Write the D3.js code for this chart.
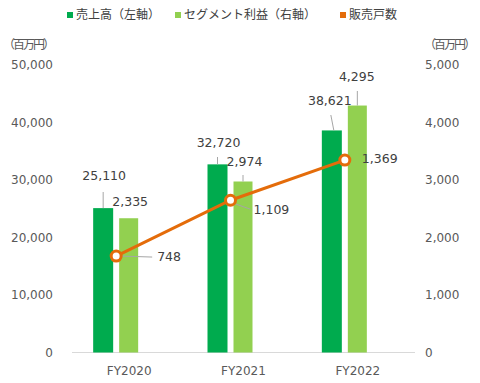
<!DOCTYPE html>
<html>
<head>
<meta charset="utf-8">
<script src="https://cdn.jsdelivr.net/npm/d3@7"></script>
<style>
  body { margin: 0; background: #fff; }
  text { font-family: "DejaVu Sans", "Noto Sans CJK JP", sans-serif; }
  .jp { font-family: "Noto Sans CJK JP", sans-serif; }
</style>
</head>
<body>
<script>
// data
var years = ["FY2020", "FY2021", "FY2022"];
var sales = [25110, 32720, 38621];      // 売上高 (left axis)
var segProfit = [2335, 2974, 4295];     // セグメント利益 (right axis)
var units = [748, 1109, 1369];          // 販売戸数 (hidden axis)
var leftTicks = [0, 10000, 20000, 30000, 40000, 50000];
var rightTicks = [0, 1000, 2000, 3000, 4000, 5000];

var W = 480, H = 383;
var colDark = "#00ab4e", colLight = "#92d050", colOrange = "#e46c0a";
var txt = "#404040", axTxt = "#595959", lead = "#a6a6a6";

var svg = d3.select("body").append("svg")
  .attr("width", W).attr("height", H);

var x = d3.scaleBand().domain(years).range([72, 415]);
var yL = d3.scaleLinear().domain([0, 50000]).range([352.5, 65]);
var yR = d3.scaleLinear().domain([0, 5000]).range([352.5, 65]);
// hidden third axis for the line
var yU = d3.scaleLinear().domain([124, 1984]).range([352.5, 65]);

function cx(d) { return x(d) + x.bandwidth() / 2; }

// baseline
svg.append("line")
  .attr("x1", 72).attr("x2", 415).attr("y1", 352.5).attr("y2", 352.5)
  .attr("stroke", "#d9d9d9").attr("stroke-width", 1);

// axis ticks
svg.selectAll(".lt").data(leftTicks).enter().append("text")
  .attr("x", 53).attr("y", function(d) { return yL(d); })
  .attr("dy", "0.35em").attr("text-anchor", "end")
  .attr("font-size", 12).attr("fill", axTxt)
  .text(d3.format(","));

svg.selectAll(".rt").data(rightTicks).enter().append("text")
  .attr("x", 425).attr("y", function(d) { return yR(d); })
  .attr("dy", "0.35em").attr("text-anchor", "start")
  .attr("font-size", 12).attr("fill", axTxt)
  .text(d3.format(","));

// unit titles
[3, 424].forEach(function(tx) {
  svg.append("text").attr("class", "jp").attr("x", tx).attr("y", 45)
    .attr("dy", "0.35em").attr("font-size", 12).attr("fill", axTxt)
    .attr("letter-spacing", "-2px").text("（百万円）");
});

// x labels
svg.selectAll(".xl").data(years).enter().append("text")
  .attr("x", cx).attr("y", 371).attr("dy", "0.35em")
  .attr("text-anchor", "middle").attr("font-size", 12).attr("fill", axTxt)
  .text(function(d) { return d; });

// bars
svg.selectAll(".b1").data(years).enter().append("rect")
  .attr("x", function(d) { return cx(d) - 36; })
  .attr("width", 20)
  .attr("y", function(d, i) { return yL(sales[i]); })
  .attr("height", function(d, i) { return yL(0) - yL(sales[i]); })
  .attr("fill", colDark);

svg.selectAll(".b2").data(years).enter().append("rect")
  .attr("x", function(d) { return cx(d) - 10; })
  .attr("width", 19)
  .attr("y", function(d, i) { return yR(segProfit[i]); })
  .attr("height", function(d, i) { return yR(0) - yR(segProfit[i]); })
  .attr("fill", colLight);

// leader lines
var salesLead = [[-26, -26, 192], [-26, -26, 157], [-27, -24, 115]];
svg.selectAll(".sl").data(years).enter().append("line")
  .attr("x1", function(d, i) { return cx(d) + salesLead[i][0]; })
  .attr("x2", function(d, i) { return cx(d) + salesLead[i][1]; })
  .attr("y1", function(d, i) { return salesLead[i][2]; })
  .attr("y2", function(d, i) { return yL(sales[i]); })
  .attr("stroke", lead).attr("stroke-width", 1);

svg.selectAll(".pl").data(years.slice(1)).enter().append("line")
  .attr("x1", function(d) { return cx(d) - 0.5; })
  .attr("x2", function(d) { return cx(d) - 0.5; })
  .attr("y1", function(d, i) { return [175, 91][i]; })
  .attr("y2", function(d, i) { return yR(segProfit[i + 1]); })
  .attr("stroke", lead).attr("stroke-width", 1);

// line series
var lineGen = d3.line()
  .x(function(d, i) { return cx(years[i]) - 13; })
  .y(function(d) { return yU(d); });

// unit leader lines
svg.append("line")
  .attr("x1", cx(years[0]) - 9).attr("x2", cx(years[0]) + 23)
  .attr("y1", yU(units[0])).attr("y2", yU(units[0]) + 1)
  .attr("stroke", lead);
svg.append("line")
  .attr("x1", cx(years[1]) - 10).attr("x2", cx(years[1]) + 7)
  .attr("y1", yU(units[1]) + 3).attr("y2", yU(units[1]) + 9)
  .attr("stroke", lead);

svg.append("path").datum(units)
  .attr("d", lineGen)
  .attr("fill", "none").attr("stroke", colOrange).attr("stroke-width", 3);

svg.selectAll(".mk").data(units).enter().append("circle")
  .attr("cx", function(d, i) { return cx(years[i]) - 13; })
  .attr("cy", function(d) { return yU(d); })
  .attr("r", 5)
  .attr("fill", "#fff").attr("stroke", colOrange).attr("stroke-width", 3);

// data labels
var fmt = d3.format(",");
var salesLbl = [[-25, 176], [-25, 143], [-28, 101]];
svg.selectAll(".sv").data(sales).enter().append("text")
  .attr("x", function(d, i) { return cx(years[i]) + salesLbl[i][0]; })
  .attr("y", function(d, i) { return salesLbl[i][1]; })
  .attr("dy", "0.35em").attr("text-anchor", "middle")
  .attr("font-size", 12.5).attr("fill", txt).text(fmt);

var profLbl = [[1, 202], [1, 162], [-1, 77]];
svg.selectAll(".pv").data(segProfit).enter().append("text")
  .attr("x", function(d, i) { return cx(years[i]) + profLbl[i][0]; })
  .attr("y", function(d, i) { return profLbl[i][1]; })
  .attr("dy", "0.35em").attr("text-anchor", "middle")
  .attr("font-size", 12.5).attr("fill", txt).text(fmt);

var unitLbl = [[28, 1], [10, 9], [4, -1]];
svg.selectAll(".uv").data(units).enter().append("text")
  .attr("x", function(d, i) { return cx(years[i]) + unitLbl[i][0]; })
  .attr("y", function(d, i) { return yU(d) + unitLbl[i][1]; })
  .attr("dy", "0.35em").attr("text-anchor", "start")
  .attr("font-size", 12.5).attr("fill", txt).text(fmt);

// legend
var legend = [
  { name: "売上高（左軸）", color: colDark, x: 67 },
  { name: "セグメント利益（右軸）", color: colLight, x: 175 },
  { name: "販売戸数", color: colOrange, x: 340 }
];
var lg = svg.selectAll(".lg").data(legend).enter().append("g");
lg.append("rect")
  .attr("x", function(d) { return d.x; }).attr("y", 12)
  .attr("width", 6).attr("height", 6)
  .attr("fill", function(d) { return d.color; });
lg.append("text").attr("class", "jp")
  .attr("x", function(d) { return d.x + 9; }).attr("y", 15)
  .attr("dy", "0.35em").attr("font-size", 12).attr("fill", txt)
  .text(function(d) { return d.name; });
</script>
</body>
</html>
